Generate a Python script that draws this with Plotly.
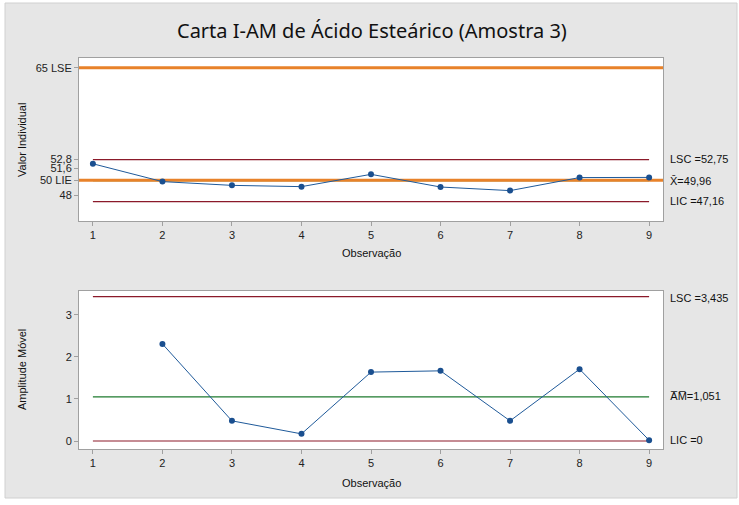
import plotly.graph_objects as go

obs = [1, 2, 3, 4, 5, 6, 7, 8, 9]
individual = [52.20, 49.82, 49.32, 49.15, 50.79, 49.10, 48.62, 50.36, 50.38]
mr_obs = [2, 3, 4, 5, 6, 7, 8, 9]
moving_range = [2.31, 0.48, 0.17, 1.64, 1.67, 0.48, 1.71, 0.02]

lse, lie = 65, 50
i_lsc, i_mean, i_lic = 52.75, 49.96, 47.16
mr_lsc, mr_mean, mr_lic = 3.435, 1.051, 0

top_tickvals = [65, 52.8, 51.6, 50, 48]
top_ticktext = ["65 LSE", "52,8", "51,6", "50 LIE", "48"]
bot_tickvals = [0, 1, 2, 3]
bot_ticktext = ["0", "1", "2", "3"]

W, H = 739, 505
def px(x):
    return x / W
def py(y):
    return 1 - y / H

RED = "#8b1a2a"
GREEN = "#1e7a2e"
ORANGE = "#e8822a"
BLUE = "#1f5a9a"
MARK = "#1a4f8f"
AXC = "#a0a0a0"
FONT = "Liberation Sans"

fig = go.Figure()

xs_full = [0.8, 9.2]
xs_lim = [1, 9]

# top panel
fig.add_trace(go.Scatter(x=xs_lim, y=[i_lsc, i_lsc], mode="lines", line=dict(color=RED, width=1.2), xaxis="x", yaxis="y", hoverinfo="skip"))
fig.add_trace(go.Scatter(x=xs_lim, y=[i_lic, i_lic], mode="lines", line=dict(color=RED, width=1.2), xaxis="x", yaxis="y", hoverinfo="skip"))
fig.add_trace(go.Scatter(x=xs_lim, y=[i_mean, i_mean], mode="lines", line=dict(color=GREEN, width=1.2), xaxis="x", yaxis="y", hoverinfo="skip"))
fig.add_trace(go.Scatter(x=xs_full, y=[lse, lse], mode="lines", line=dict(color=ORANGE, width=3), xaxis="x", yaxis="y", hoverinfo="skip"))
fig.add_trace(go.Scatter(x=xs_full, y=[lie, lie], mode="lines", line=dict(color=ORANGE, width=3), xaxis="x", yaxis="y", hoverinfo="skip"))
fig.add_trace(go.Scatter(x=obs, y=individual, mode="lines+markers", line=dict(color=BLUE, width=1),
                         marker=dict(color=MARK, size=6), xaxis="x", yaxis="y"))

# bottom panel
fig.add_trace(go.Scatter(x=xs_lim, y=[mr_lsc, mr_lsc], mode="lines", line=dict(color=RED, width=1.2), xaxis="x2", yaxis="y2", hoverinfo="skip"))
fig.add_trace(go.Scatter(x=xs_lim, y=[mr_lic, mr_lic], mode="lines", line=dict(color=RED, width=1.2), xaxis="x2", yaxis="y2", hoverinfo="skip"))
fig.add_trace(go.Scatter(x=xs_lim, y=[mr_mean, mr_mean], mode="lines", line=dict(color=GREEN, width=1.2), xaxis="x2", yaxis="y2", hoverinfo="skip"))
fig.add_trace(go.Scatter(x=mr_obs, y=moving_range, mode="lines+markers", line=dict(color=BLUE, width=1),
                         marker=dict(color=MARK, size=6), xaxis="x2", yaxis="y2"))

xdom = [px(79), px(663)]
top_dom = [py(221), py(58)]
bot_dom = [py(449), py(291)]
axis_common = dict(showgrid=False, zeroline=False, showline=True, linecolor=AXC, linewidth=1, mirror=True,
                   ticks="outside", ticklen=4, tickcolor=AXC, tickfont=dict(family=FONT, size=11, color="#222"))

fig.update_layout(
    width=W, height=H,
    margin=dict(l=0, r=0, t=0, b=0),
    paper_bgcolor="white",
    plot_bgcolor="white",
    showlegend=False,
    xaxis=dict(domain=xdom, range=[0.8, 9.2], tickvals=obs, anchor="y", **axis_common),
    yaxis=dict(domain=top_dom, range=[44.57, 66.3], tickvals=top_tickvals, ticktext=top_ticktext, anchor="x", **axis_common),
    xaxis2=dict(domain=xdom, range=[0.8, 9.2], tickvals=obs, anchor="y2", **axis_common),
    yaxis2=dict(domain=bot_dom, range=[-0.19, 3.57], tickvals=bot_tickvals, ticktext=bot_ticktext, anchor="x2", **axis_common),
    shapes=[
        dict(type="rect", xref="paper", yref="paper", x0=px(5), x1=px(737), y0=py(498), y1=py(3),
             fillcolor="#e6e6e6", line=dict(color="#d0d0d0", width=1), layer="below"),
        dict(type="rect", xref="paper", yref="paper", x0=xdom[0], x1=xdom[1], y0=top_dom[0], y1=top_dom[1],
             fillcolor="white", line=dict(width=0), layer="below"),
        dict(type="rect", xref="paper", yref="paper", x0=xdom[0], x1=xdom[1], y0=bot_dom[0], y1=bot_dom[1],
             fillcolor="white", line=dict(width=0), layer="below"),
    ],
)

ann = []
def A(text, x, y, size=11, xanchor="left", angle=0, family=FONT):
    ann.append(dict(text=text, x=px(x), y=py(y), xref="paper", yref="paper", showarrow=False,
                    xanchor=xanchor, yanchor="middle", textangle=angle,
                    font=dict(family=family, size=size, color="#111")))

A("Carta I-AM de Ácido Esteárico (Amostra 3)", 372, 30, size=20, xanchor="center", family="Noto Sans")
A("Valor Individual", 22, 140, angle=-90, xanchor="center")
A("Observação", 371, 253, xanchor="center")
A("Amplitude Móvel", 22, 370, angle=-90, xanchor="center")
A("Observação", 371, 483, xanchor="center")
A("LSC =52,75", 668, 159)
A("X\u0304=49,96", 668, 181)
A("LIC =47,16", 668, 201)
A("LSC =3,435", 668, 298)
A("A\u0305M\u0305=1,051", 668, 396)
A("LIC =0", 668, 440)
fig.update_layout(annotations=ann)

fig.write_html("out.html")
